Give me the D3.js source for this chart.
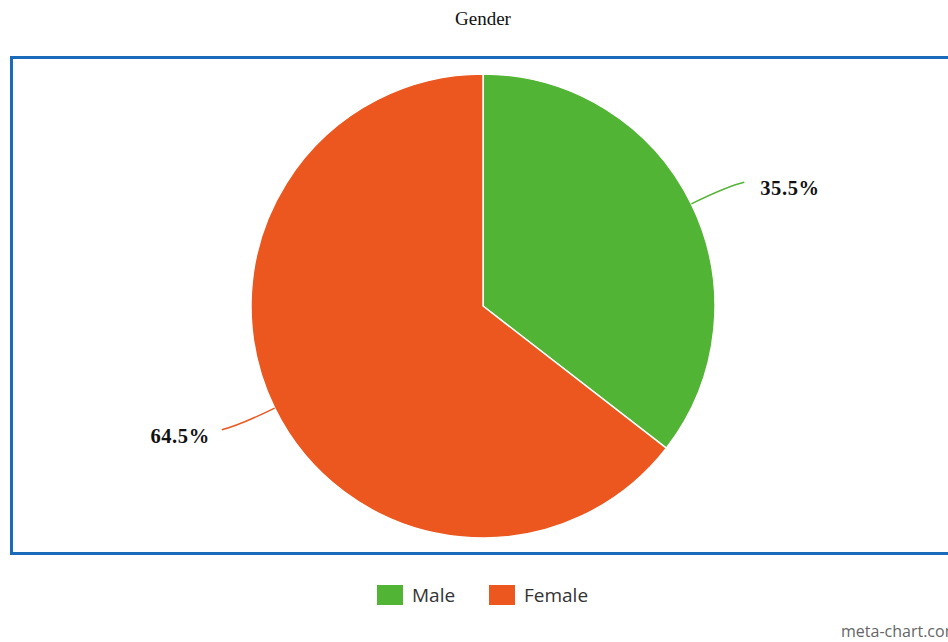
<!DOCTYPE html>
<html>
<head>
<meta charset="utf-8">
<script src="https://cdn.jsdelivr.net/npm/d3@7"></script>
<style>
  body { margin: 0; background: #fff; }
  svg { display: block; }
</style>
</head>
<body>
<script>
// chart data
var categories = ["Male", "Female"];
var values = [35.5, 64.5];
var colors = ["#52b435", "#eb571e"];
var title = "Gender";

var W = 948, H = 642;
var cx = 483, cy = 306, R = 232;

var svg = d3.select("body").append("svg")
    .attr("width", W)
    .attr("height", H);

// title
svg.append("text")
    .attr("x", 483)
    .attr("y", 25)
    .attr("text-anchor", "middle")
    .style("font-family", "'Liberation Serif', 'Times New Roman', serif")
    .style("font-size", "19px")
    .style("fill", "#111")
    .text(title);

// blue frame (runs off the right edge)
svg.append("rect")
    .attr("x", 11.5)
    .attr("y", 57.5)
    .attr("width", 960)
    .attr("height", 496)
    .style("fill", "none")
    .style("stroke", "#1a6cbb")
    .style("stroke-width", 3);

var data = categories.map(function(c, i) {
    return {name: c, value: values[i], color: colors[i]};
});

var pie = d3.pie()
    .sort(null)
    .value(function(d) { return d.value; });

var arc = d3.arc().innerRadius(0).outerRadius(R);

var g = svg.append("g")
    .attr("transform", "translate(" + cx + "," + cy + ")");

var arcs = pie(data);

g.selectAll("path.slice")
    .data(arcs)
    .enter().append("path")
    .attr("class", "slice")
    .attr("d", arc)
    .style("fill", function(d) { return d.data.color; })
    .style("stroke", "#fff")
    .style("stroke-width", 1.5);

// connector lines + labels
var pointAt = function(a, r) {
    return [Math.sin(a) * r, -Math.cos(a) * r];
};

arcs.forEach(function(d) {
    var mid = (d.startAngle + d.endAngle) / 2;
    var side = Math.sin(mid) >= 0 ? 1 : -1;
    var p0 = pointAt(mid, R);
    var p1 = pointAt(mid, R + 40);
    var p2 = [p1[0] + side * 17, p1[1] - side * 4];

    g.append("path")
        .attr("d", "M" + p0[0] + "," + p0[1] + " Q" + p1[0] + "," + p1[1] + " " + p2[0] + "," + p2[1])
        .style("fill", "none")
        .style("stroke", d.data.color)
        .style("stroke-width", 1.5);

    g.append("text")
        .attr("x", p2[0] + (side > 0 ? 16 : -12))
        .attr("y", p2[1] + 13)
        .attr("text-anchor", side > 0 ? "start" : "end")
        .style("font-family", "'Liberation Serif', 'Times New Roman', serif")
        .style("font-weight", "bold")
        .style("font-size", "20.5px")
        .style("letter-spacing", "0.6px")
        .style("fill", "#111")
        .text(d3.format(".1f")(d.data.value) + "%");
});

// legend
var legend = svg.append("g");
var legX = [377, 489];
data.forEach(function(d, i) {
    legend.append("rect")
        .attr("x", legX[i])
        .attr("y", 585)
        .attr("width", 26)
        .attr("height", 20)
        .style("fill", d.color);
    legend.append("text")
        .attr("x", legX[i] + 35)
        .attr("y", 602)
        .style("font-family", "'Open Sans', sans-serif")
        .style("font-size", "19px")
        .style("fill", "#333")
        .text(d.name);
});

// watermark (cut off at the right edge, as in the source)
svg.append("text")
    .attr("x", 841)
    .attr("y", 637)
    .style("font-family", "'Open Sans', sans-serif")
    .style("font-size", "16px")
    .style("fill", "#666")
    .text("meta-chart.com");
</script>
</body>
</html>
